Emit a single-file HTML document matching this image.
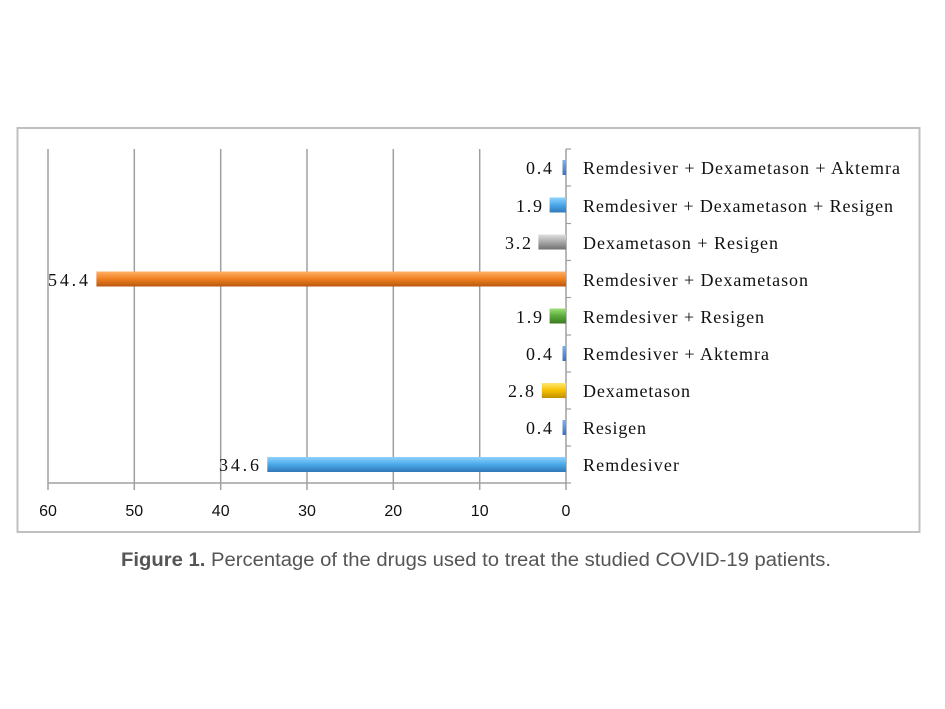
<!DOCTYPE html>
<html><head><meta charset="utf-8"><style>
html,body{margin:0;padding:0;background:#fff;width:945px;height:709px;overflow:hidden}
</style></head><body>
<svg width="945" height="709" xmlns="http://www.w3.org/2000/svg">
<defs>
<linearGradient id="gb" x1="0" y1="0" x2="0" y2="1"><stop offset="0" stop-color="#8fd3ff"/><stop offset="0.5" stop-color="#4aa8e8"/><stop offset="1" stop-color="#2f78b8"/></linearGradient>
<linearGradient id="go" x1="0" y1="0" x2="0" y2="1"><stop offset="0" stop-color="#ffb066"/><stop offset="0.5" stop-color="#f08020"/><stop offset="1" stop-color="#b85810"/></linearGradient>
<linearGradient id="gg" x1="0" y1="0" x2="0" y2="1"><stop offset="0" stop-color="#9be07a"/><stop offset="0.5" stop-color="#5aaa3a"/><stop offset="1" stop-color="#3a7a22"/></linearGradient>
<linearGradient id="gy" x1="0" y1="0" x2="0" y2="1"><stop offset="0" stop-color="#ffe870"/><stop offset="0.5" stop-color="#f5c000"/><stop offset="1" stop-color="#c09000"/></linearGradient>
<linearGradient id="gr" x1="0" y1="0" x2="0" y2="1"><stop offset="0" stop-color="#e0e0e0"/><stop offset="0.5" stop-color="#a8a8a8"/><stop offset="1" stop-color="#707070"/></linearGradient>
<linearGradient id="gd" x1="0" y1="0" x2="0" y2="1"><stop offset="0" stop-color="#7fb0f0"/><stop offset="1" stop-color="#3a70c8"/></linearGradient>
</defs>
<rect x="17.5" y="128" width="902" height="404" fill="#fff" stroke="#c0c0c0" stroke-width="2"/>
<g stroke="#a0a0a0" stroke-width="1.5">
<line x1="48" y1="149" x2="48" y2="490"/>
<line x1="134.3" y1="149" x2="134.3" y2="490"/>
<line x1="220.7" y1="149" x2="220.7" y2="490"/>
<line x1="307" y1="149" x2="307" y2="490"/>
<line x1="393.3" y1="149" x2="393.3" y2="490"/>
<line x1="479.7" y1="149" x2="479.7" y2="490"/>
<line x1="566" y1="149" x2="566" y2="490"/>
<line x1="48" y1="483" x2="566" y2="483"/>
</g>
<g stroke="#a0a0a0" stroke-width="1.2">
<line x1="566" y1="149" x2="571" y2="149"/>
<line x1="566" y1="186" x2="571" y2="186"/>
<line x1="566" y1="223.5" x2="571" y2="223.5"/>
<line x1="566" y1="260.5" x2="571" y2="260.5"/>
<line x1="566" y1="297.5" x2="571" y2="297.5"/>
<line x1="566" y1="335" x2="571" y2="335"/>
<line x1="566" y1="372" x2="571" y2="372"/>
<line x1="566" y1="409" x2="571" y2="409"/>
<line x1="566" y1="446" x2="571" y2="446"/>
<line x1="566" y1="483" x2="571" y2="483"/>
</g>
<g>
<rect x="562.5" y="160" width="3.5" height="15" fill="url(#gd)"/>
<rect x="549.6" y="197.5" width="16.4" height="15" fill="url(#gb)"/>
<rect x="538.4" y="234.5" width="27.6" height="15" fill="url(#gr)"/>
<rect x="96.4" y="271.5" width="469.6" height="15" fill="url(#go)"/>
<rect x="549.6" y="308.5" width="16.4" height="15" fill="url(#gg)"/>
<rect x="562.5" y="346" width="3.5" height="15" fill="url(#gd)"/>
<rect x="541.8" y="383" width="24.2" height="15" fill="url(#gy)"/>
<rect x="562.5" y="420" width="3.5" height="15" fill="url(#gd)"/>
<rect x="267.3" y="457" width="298.7" height="15" fill="url(#gb)"/>
</g>
<g font-family="Liberation Serif, serif" font-size="18" fill="#111" lengthAdjust="spacingAndGlyphs">
<text x="526" y="174" textLength="26">0.4</text>
<text x="516" y="212" textLength="26">1.9</text>
<text x="505" y="249" textLength="26">3.2</text>
<text x="48" y="286" textLength="40">54.4</text>
<text x="516" y="323" textLength="26">1.9</text>
<text x="526" y="360" textLength="26">0.4</text>
<text x="508" y="397" textLength="26">2.8</text>
<text x="526" y="434" textLength="26">0.4</text>
<text x="219" y="471" textLength="40">34.6</text>
</g>
<g font-family="Liberation Serif, serif" font-size="18" fill="#111" lengthAdjust="spacingAndGlyphs">
<text x="583" y="174" textLength="317">Remdesiver + Dexametason + Aktemra</text>
<text x="583" y="212" textLength="310">Remdesiver + Dexametason + Resigen</text>
<text x="583" y="249" textLength="195">Dexametason + Resigen</text>
<text x="583" y="286" textLength="225">Remdesiver + Dexametason</text>
<text x="583" y="323" textLength="181">Remdesiver + Resigen</text>
<text x="583" y="360" textLength="186">Remdesiver + Aktemra</text>
<text x="583" y="397" textLength="107">Dexametason</text>
<text x="583" y="434" textLength="63">Resigen</text>
<text x="583" y="471" textLength="96">Remdesiver</text>
</g>
<g font-family="Liberation Sans, sans-serif" font-size="16" fill="#111" text-anchor="middle">
<text x="48" y="516">60</text>
<text x="134.3" y="516">50</text>
<text x="220.7" y="516">40</text>
<text x="307" y="516">30</text>
<text x="393.3" y="516">20</text>
<text x="479.7" y="516">10</text>
<text x="566" y="516">0</text>
</g>
<text x="121" y="566" font-family="Liberation Sans, sans-serif" font-size="19" fill="#555" textLength="710" lengthAdjust="spacingAndGlyphs"><tspan font-weight="bold">Figure 1.</tspan> Percentage of the drugs used to treat the studied COVID-19 patients.</text>
</svg>
</body></html>
